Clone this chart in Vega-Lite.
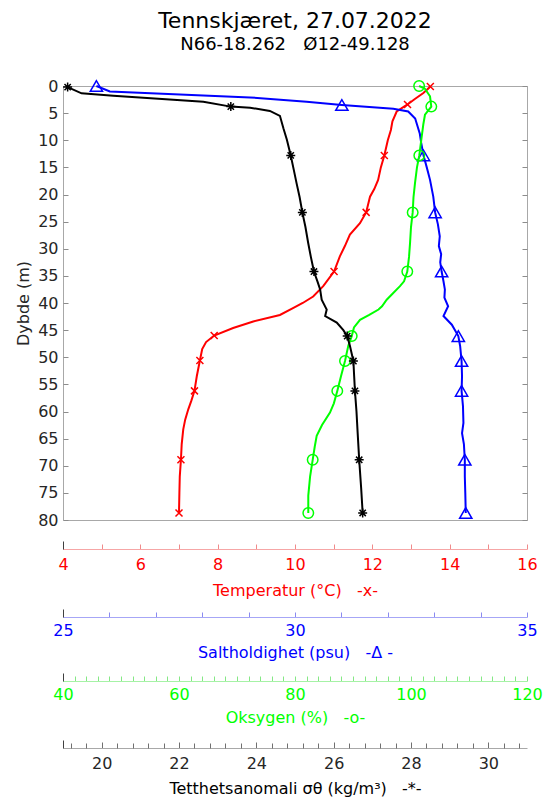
{
  "$schema": "https://vega.github.io/schema/vega-lite/v6.json",
  "width": 464,
  "height": 434,
  "autosize": "none",
  "padding": {"left": 63, "top": 86, "right": 18, "bottom": 280},
  "background": "white",
  "config": {
    "font": "DejaVu Sans",
    "view": {"stroke": "#a8a8a8", "strokeWidth": 1},
    "axis": {"grid": false, "labelFont": "DejaVu Sans", "titleFont": "DejaVu Sans", "labelFontSize": 16, "titleFontSize": 16, "titleFontWeight": "normal", "labelFlush": false, "labelOverlap": false}
  },
  "title": {"text": "Tennskjæret, 27.07.2022", "subtitle": "N66-18.262\u00a0\u00a0\u00a0Ø12-49.128", "fontSize": 22, "fontWeight": "normal", "subtitleFontSize": 18, "color": "#000000", "subtitleColor": "#000000", "anchor": "middle", "offset": 23, "subtitlePadding": 3, "font": "DejaVu Sans", "subtitleFont": "DejaVu Sans"},
  "datasets": {
    "prof": [
      {"p":"T","d":0.1,"v":13.5,"m":1},{"p":"T","d":1.3,"v":13.32,"m":0},{"p":"T","d":2.4,"v":13.1,"m":0},{"p":"T","d":3.4,"v":12.91,"m":1},{"p":"T","d":4.7,"v":12.63,"m":0},{"p":"T","d":6.5,"v":12.52,"m":0},{"p":"T","d":8.1,"v":12.48,"m":0},{"p":"T","d":10.0,"v":12.4,"m":0},{"p":"T","d":12.8,"v":12.31,"m":1},{"p":"T","d":15.0,"v":12.22,"m":0},{"p":"T","d":17.3,"v":12.15,"m":0},{"p":"T","d":19.0,"v":12.05,"m":0},{"p":"T","d":20.4,"v":11.94,"m":0},{"p":"T","d":23.3,"v":11.84,"m":1},{"p":"T","d":25.3,"v":11.68,"m":0},{"p":"T","d":27.4,"v":11.42,"m":0},{"p":"T","d":29.5,"v":11.29,"m":0},{"p":"T","d":31.4,"v":11.16,"m":0},{"p":"T","d":34.2,"v":11.01,"m":1},{"p":"T","d":36.9,"v":10.73,"m":0},{"p":"T","d":38.8,"v":10.47,"m":0},{"p":"T","d":40.0,"v":10.2,"m":0},{"p":"T","d":40.9,"v":9.96,"m":0},{"p":"T","d":42.2,"v":9.61,"m":0},{"p":"T","d":43.4,"v":8.92,"m":0},{"p":"T","d":44.6,"v":8.4,"m":0},{"p":"T","d":46.0,"v":7.91,"m":1},{"p":"T","d":47.2,"v":7.7,"m":0},{"p":"T","d":48.5,"v":7.6,"m":0},{"p":"T","d":50.6,"v":7.54,"m":1},{"p":"T","d":53.5,"v":7.46,"m":0},{"p":"T","d":56.2,"v":7.4,"m":1},{"p":"T","d":58.0,"v":7.32,"m":0},{"p":"T","d":59.6,"v":7.24,"m":0},{"p":"T","d":61.5,"v":7.16,"m":0},{"p":"T","d":63.3,"v":7.11,"m":0},{"p":"T","d":66.0,"v":7.07,"m":0},{"p":"T","d":68.9,"v":7.05,"m":1},{"p":"T","d":72.0,"v":7.02,"m":0},{"p":"T","d":75.0,"v":7.01,"m":0},{"p":"T","d":78.7,"v":7.0,"m":1},
      {"p":"S","d":0.0,"v":25.72,"m":1},{"p":"S","d":1.0,"v":26.01,"m":0},{"p":"S","d":2.1,"v":29.03,"m":0},{"p":"S","d":2.9,"v":30.25,"m":0},{"p":"S","d":3.5,"v":31.01,"m":1},{"p":"S","d":4.2,"v":32.12,"m":0},{"p":"S","d":4.7,"v":32.44,"m":0},{"p":"S","d":6.0,"v":32.59,"m":0},{"p":"S","d":8.8,"v":32.69,"m":0},{"p":"S","d":10.5,"v":32.72,"m":0},{"p":"S","d":12.8,"v":32.77,"m":1},{"p":"S","d":15.0,"v":32.84,"m":0},{"p":"S","d":17.3,"v":32.91,"m":0},{"p":"S","d":20.4,"v":32.98,"m":0},{"p":"S","d":23.3,"v":33.02,"m":1},{"p":"S","d":25.5,"v":33.08,"m":0},{"p":"S","d":27.7,"v":33.12,"m":0},{"p":"S","d":29.5,"v":33.1,"m":0},{"p":"S","d":31.0,"v":33.15,"m":0},{"p":"S","d":32.5,"v":33.13,"m":0},{"p":"S","d":34.2,"v":33.16,"m":1},{"p":"S","d":36.0,"v":33.2,"m":0},{"p":"S","d":37.5,"v":33.23,"m":0},{"p":"S","d":39.0,"v":33.22,"m":0},{"p":"S","d":40.6,"v":33.3,"m":0},{"p":"S","d":42.4,"v":33.2,"m":0},{"p":"S","d":44.0,"v":33.38,"m":0},{"p":"S","d":46.1,"v":33.52,"m":1},{"p":"S","d":48.0,"v":33.56,"m":0},{"p":"S","d":50.7,"v":33.59,"m":1},{"p":"S","d":53.5,"v":33.6,"m":0},{"p":"S","d":56.2,"v":33.59,"m":1},{"p":"S","d":59.0,"v":33.62,"m":0},{"p":"S","d":62.1,"v":33.63,"m":0},{"p":"S","d":64.0,"v":33.6,"m":0},{"p":"S","d":66.0,"v":33.64,"m":0},{"p":"S","d":68.9,"v":33.66,"m":1},{"p":"S","d":72.0,"v":33.66,"m":0},{"p":"S","d":75.0,"v":33.67,"m":0},{"p":"S","d":78.7,"v":33.68,"m":1},
      {"p":"O","d":0.0,"v":101.4,"m":1},{"p":"O","d":0.5,"v":102.4,"m":0},{"p":"O","d":1.9,"v":103.28,"m":0},{"p":"O","d":3.8,"v":103.5,"m":1},{"p":"O","d":5.3,"v":102.41,"m":0},{"p":"O","d":7.1,"v":102.12,"m":0},{"p":"O","d":9.4,"v":101.84,"m":0},{"p":"O","d":12.8,"v":101.43,"m":1},{"p":"O","d":15.0,"v":101.03,"m":0},{"p":"O","d":17.9,"v":100.69,"m":0},{"p":"O","d":20.5,"v":100.43,"m":0},{"p":"O","d":23.3,"v":100.29,"m":1},{"p":"O","d":26.0,"v":100.0,"m":0},{"p":"O","d":29.0,"v":99.83,"m":0},{"p":"O","d":31.5,"v":99.66,"m":0},{"p":"O","d":34.2,"v":99.36,"m":1},{"p":"O","d":36.0,"v":98.8,"m":0},{"p":"O","d":36.9,"v":98.1,"m":0},{"p":"O","d":38.2,"v":96.9,"m":0},{"p":"O","d":39.4,"v":95.81,"m":0},{"p":"O","d":40.6,"v":95.0,"m":0},{"p":"O","d":41.2,"v":94.4,"m":0},{"p":"O","d":42.2,"v":92.8,"m":0},{"p":"O","d":43.1,"v":91.21,"m":0},{"p":"O","d":44.5,"v":90.17,"m":0},{"p":"O","d":46.1,"v":89.78,"m":1},{"p":"O","d":47.9,"v":89.19,"m":0},{"p":"O","d":50.7,"v":88.62,"m":1},{"p":"O","d":53.5,"v":87.93,"m":0},{"p":"O","d":56.2,"v":87.29,"m":1},{"p":"O","d":58.5,"v":86.7,"m":0},{"p":"O","d":60.2,"v":86.03,"m":0},{"p":"O","d":62.5,"v":84.66,"m":0},{"p":"O","d":64.5,"v":83.74,"m":0},{"p":"O","d":66.5,"v":83.4,"m":0},{"p":"O","d":68.9,"v":83.05,"m":1},{"p":"O","d":72.0,"v":82.6,"m":0},{"p":"O","d":75.5,"v":82.29,"m":0},{"p":"O","d":78.7,"v":82.29,"m":1},
      {"p":"D","d":0.2,"v":19.12,"m":1},{"p":"D","d":1.35,"v":19.48,"m":0},{"p":"D","d":1.8,"v":20.3,"m":0},{"p":"D","d":2.9,"v":22.63,"m":0},{"p":"D","d":3.8,"v":23.34,"m":1},{"p":"D","d":4.0,"v":23.84,"m":0},{"p":"D","d":4.6,"v":24.35,"m":0},{"p":"D","d":5.5,"v":24.61,"m":0},{"p":"D","d":7.8,"v":24.7,"m":0},{"p":"D","d":9.9,"v":24.79,"m":0},{"p":"D","d":12.8,"v":24.89,"m":1},{"p":"D","d":15.5,"v":24.97,"m":0},{"p":"D","d":17.9,"v":25.04,"m":0},{"p":"D","d":20.5,"v":25.12,"m":0},{"p":"D","d":23.3,"v":25.19,"m":1},{"p":"D","d":26.0,"v":25.27,"m":0},{"p":"D","d":28.9,"v":25.34,"m":0},{"p":"D","d":31.5,"v":25.41,"m":0},{"p":"D","d":34.2,"v":25.49,"m":1},{"p":"D","d":36.0,"v":25.58,"m":0},{"p":"D","d":37.5,"v":25.65,"m":0},{"p":"D","d":39.4,"v":25.69,"m":0},{"p":"D","d":41.2,"v":25.82,"m":0},{"p":"D","d":42.4,"v":25.78,"m":0},{"p":"D","d":43.6,"v":26.08,"m":0},{"p":"D","d":45.0,"v":26.25,"m":0},{"p":"D","d":46.1,"v":26.35,"m":1},{"p":"D","d":47.9,"v":26.42,"m":0},{"p":"D","d":50.7,"v":26.51,"m":1},{"p":"D","d":53.5,"v":26.53,"m":0},{"p":"D","d":56.2,"v":26.55,"m":1},{"p":"D","d":60.0,"v":26.59,"m":0},{"p":"D","d":63.9,"v":26.62,"m":0},{"p":"D","d":68.9,"v":26.66,"m":1},{"p":"D","d":74.0,"v":26.71,"m":0},{"p":"D","d":78.7,"v":26.75,"m":1}
    ]
  },
  "data": {"name": "prof"},
  "layer": [
    {
      "transform": [{"filter": "datum.p === 'T'"}],
      "encoding": {
        "x": {"field": "v", "type": "quantitative", "scale": {"domain": [4, 16], "nice": false, "zero": false},
          "axis": {"orient": "bottom", "offset": 29, "tickCount": 25, "format": "d", "labelExpr": "datum.value % 2 === 0 ? datum.label : ''", "tickSize": -5, "domainColor": "#f6a6a6", "tickColor": "#f08a8a", "labelColor": "#ff0000", "titleColor": "#ff0000", "labelPadding": 12, "titlePadding": 10, "title": "Temperatur (°C)\u00a0\u00a0\u00a0-x-"}},
        "y": {"field": "d", "type": "quantitative", "scale": {"domain": [0, 80], "reverse": true, "nice": false, "zero": false},
          "axis": {"orient": "left", "values": [0,5,10,15,20,25,30,35,40,45,50,55,60,65,70,75,80], "tickSize": -5, "domain": false, "tickColor": "#8c8c8c", "labelColor": "#262626", "titleColor": "#262626", "labelPadding": 10, "titlePadding": 6, "title": "Dybde (m)"}}
      },
      "layer": [
        {"mark": {"type": "line", "color": "#ff0000", "strokeWidth": 2}, "encoding": {"order": {"field": "d", "type": "quantitative"}}},
        {"transform": [{"filter": "datum.m === 1"}], "mark": {"type": "point", "shape": "M-1,-1L1,1M1,-1L-1,1", "filled": false, "color": "#ff0000", "size": 49, "strokeWidth": 1.5, "opacity": 1}}
      ]
    },
    {
      "transform": [{"filter": "datum.p === 'S'"}],
      "encoding": {
        "x": {"field": "v", "type": "quantitative", "scale": {"domain": [25, 35], "nice": false, "zero": false},
          "axis": {"orient": "bottom", "offset": 97, "tickCount": 21, "format": "d", "labelExpr": "datum.value % 5 === 0 ? datum.label : ''", "tickSize": -5, "domainColor": "#a6a6f6", "tickColor": "#8a8af0", "labelColor": "#0000ff", "titleColor": "#0000ff", "labelPadding": 10, "titlePadding": 6, "title": "Saltholdighet (psu)\u00a0\u00a0\u00a0-Δ -"}},
        "y": {"field": "d", "type": "quantitative", "scale": {"domain": [0, 80], "reverse": true, "nice": false, "zero": false}, "axis": null}
      },
      "layer": [
        {"mark": {"type": "line", "color": "#0000ff", "strokeWidth": 2}, "encoding": {"order": {"field": "d", "type": "quantitative"}}},
        {"transform": [{"filter": "datum.m === 1"}], "mark": {"type": "point", "shape": "triangle-up", "filled": false, "color": "#0000ff", "size": 150, "strokeWidth": 1.5, "opacity": 1}}
      ]
    },
    {
      "transform": [{"filter": "datum.p === 'O'"}],
      "encoding": {
        "x": {"field": "v", "type": "quantitative", "scale": {"domain": [40, 120], "nice": false, "zero": false},
          "axis": {"orient": "bottom", "offset": 161, "tickCount": 41, "format": "d", "labelExpr": "datum.value % 20 === 0 ? datum.label : ''", "tickSize": -5, "domainColor": "#a6f2a6", "tickColor": "#84e884", "labelColor": "#00ff00", "titleColor": "#00ff00", "labelPadding": 10, "titlePadding": 7, "title": "Oksygen (%)\u00a0\u00a0\u00a0-o-"}},
        "y": {"field": "d", "type": "quantitative", "scale": {"domain": [0, 80], "reverse": true, "nice": false, "zero": false}, "axis": null}
      },
      "layer": [
        {"mark": {"type": "line", "color": "#00ff00", "strokeWidth": 2}, "encoding": {"order": {"field": "d", "type": "quantitative"}}},
        {"transform": [{"filter": "datum.m === 1"}], "mark": {"type": "point", "shape": "circle", "filled": false, "color": "#00ff00", "size": 110, "strokeWidth": 1.5, "opacity": 1}}
      ]
    },
    {
      "transform": [{"filter": "datum.p === 'D'"}],
      "encoding": {
        "x": {"field": "v", "type": "quantitative", "scale": {"domain": [19, 31], "nice": false, "zero": false},
          "axis": {"orient": "bottom", "offset": 228, "values": [20,22,24,26,28,30], "format": "d", "tickSize": -6, "domainColor": "#a8a8a8", "tickColor": "#707070", "labelColor": "#262626", "titleColor": "#000000", "labelPadding": 13, "titlePadding": 9, "title": "Tetthetsanomali σθ (kg/m³)\u00a0\u00a0\u00a0-*-"}},
        "y": {"field": "d", "type": "quantitative", "scale": {"domain": [0, 80], "reverse": true, "nice": false, "zero": false}, "axis": null}
      },
      "layer": [
        {"mark": {"type": "line", "color": "#000000", "strokeWidth": 2}, "encoding": {"order": {"field": "d", "type": "quantitative"}}},
        {"transform": [{"filter": "datum.m === 1"}], "mark": {"type": "point", "shape": "M-1,0L1,0M0,-1L0,1M-0.7,-0.7L0.7,0.7M0.7,-0.7L-0.7,0.7", "filled": false, "color": "#000000", "size": 81, "strokeWidth": 1.5, "opacity": 1}}
      ]
    },
    {
      "transform": [{"filter": "datum.p === 'D'"}],
      "mark": {"type": "point", "opacity": 0},
      "encoding": {
        "x": {"field": "v", "type": "quantitative", "scale": {"domain": [19, 31], "nice": false, "zero": false},
          "axis": {"orient": "bottom", "offset": 228, "values": [19.2,19.6,20.4,20.8,21.2,21.6,22.4,22.8,23.2], "labels": false, "title": null, "domain": false, "tickSize": -5, "tickColor": "#707070"}},
        "y": {"field": "d", "type": "quantitative", "scale": {"domain": [0, 80], "reverse": true, "nice": false, "zero": false}, "axis": null}
      }
    },
    {
      "transform": [{"filter": "datum.p === 'D'"}],
      "mark": {"type": "point", "opacity": 0},
      "encoding": {
        "x": {"field": "v", "type": "quantitative", "scale": {"domain": [19, 31], "nice": false, "zero": false},
          "axis": {"orient": "bottom", "offset": 228, "values": [23.6,24.4,24.8,25.2,25.6,26.4,26.8,27.2,27.6], "labels": false, "title": null, "domain": false, "tickSize": -5, "tickColor": "#707070"}},
        "y": {"field": "d", "type": "quantitative", "scale": {"domain": [0, 80], "reverse": true, "nice": false, "zero": false}, "axis": null}
      }
    },
    {
      "transform": [{"filter": "datum.p === 'D'"}],
      "mark": {"type": "point", "opacity": 0},
      "encoding": {
        "x": {"field": "v", "type": "quantitative", "scale": {"domain": [19, 31], "nice": false, "zero": false},
          "axis": {"orient": "bottom", "offset": 228, "values": [28.4,28.8,29.2,29.6,30.4,30.8], "labels": false, "title": null, "domain": false, "tickSize": -5, "tickColor": "#707070"}},
        "y": {"field": "d", "type": "quantitative", "scale": {"domain": [0, 80], "reverse": true, "nice": false, "zero": false}, "axis": null}
      }
    },
    {
      "transform": [{"filter": "datum.p === 'D'"}],
      "mark": {"type": "point", "opacity": 0},
      "encoding": {
        "x": {"field": "v", "type": "quantitative", "scale": {"domain": [19, 31], "nice": false, "zero": false},
          "axis": {"orient": "bottom", "offset": 228, "values": [19], "labels": false, "title": null, "domain": false, "tickSize": -8, "tickColor": "#404040"}},
        "y": {"field": "d", "type": "quantitative", "scale": {"domain": [0, 80], "reverse": true, "nice": false, "zero": false}, "axis": null}
      }
    },
    {
      "transform": [{"filter": "datum.p === 'T'"}],
      "mark": {"type": "point", "opacity": 0},
      "encoding": {
        "x": {"field": "v", "type": "quantitative", "scale": {"domain": [4, 16], "nice": false, "zero": false},
          "axis": {"orient": "bottom", "offset": 29, "values": [4], "labels": false, "title": null, "domain": false, "tickSize": -8, "tickColor": "#404040"}},
        "y": {"field": "d", "type": "quantitative", "scale": {"domain": [0, 80], "reverse": true, "nice": false, "zero": false}, "axis": null}
      }
    },
    {
      "transform": [{"filter": "datum.p === 'S'"}],
      "mark": {"type": "point", "opacity": 0},
      "encoding": {
        "x": {"field": "v", "type": "quantitative", "scale": {"domain": [25, 35], "nice": false, "zero": false},
          "axis": {"orient": "bottom", "offset": 97, "values": [25], "labels": false, "title": null, "domain": false, "tickSize": -8, "tickColor": "#404040"}},
        "y": {"field": "d", "type": "quantitative", "scale": {"domain": [0, 80], "reverse": true, "nice": false, "zero": false}, "axis": null}
      }
    },
    {
      "transform": [{"filter": "datum.p === 'O'"}],
      "mark": {"type": "point", "opacity": 0},
      "encoding": {
        "x": {"field": "v", "type": "quantitative", "scale": {"domain": [40, 120], "nice": false, "zero": false},
          "axis": {"orient": "bottom", "offset": 161, "values": [40], "labels": false, "title": null, "domain": false, "tickSize": -8, "tickColor": "#404040"}},
        "y": {"field": "d", "type": "quantitative", "scale": {"domain": [0, 80], "reverse": true, "nice": false, "zero": false}, "axis": null}
      }
    },
    {
      "mark": {"type": "point", "opacity": 0},
      "encoding": {
        "y": {"field": "d", "type": "quantitative", "scale": {"domain": [0, 80], "reverse": true, "nice": false, "zero": false},
          "axis": {"orient": "right", "values": [0,5,10,15,20,25,30,35,40,45,50,55,60,65,70,75,80], "labels": false, "title": null, "domain": false, "tickSize": -5, "tickColor": "#8c8c8c"}}
      }
    }
  ],
  "resolve": {"scale": {"x": "independent"}, "axis": {"x": "independent", "y": "independent"}}
}
